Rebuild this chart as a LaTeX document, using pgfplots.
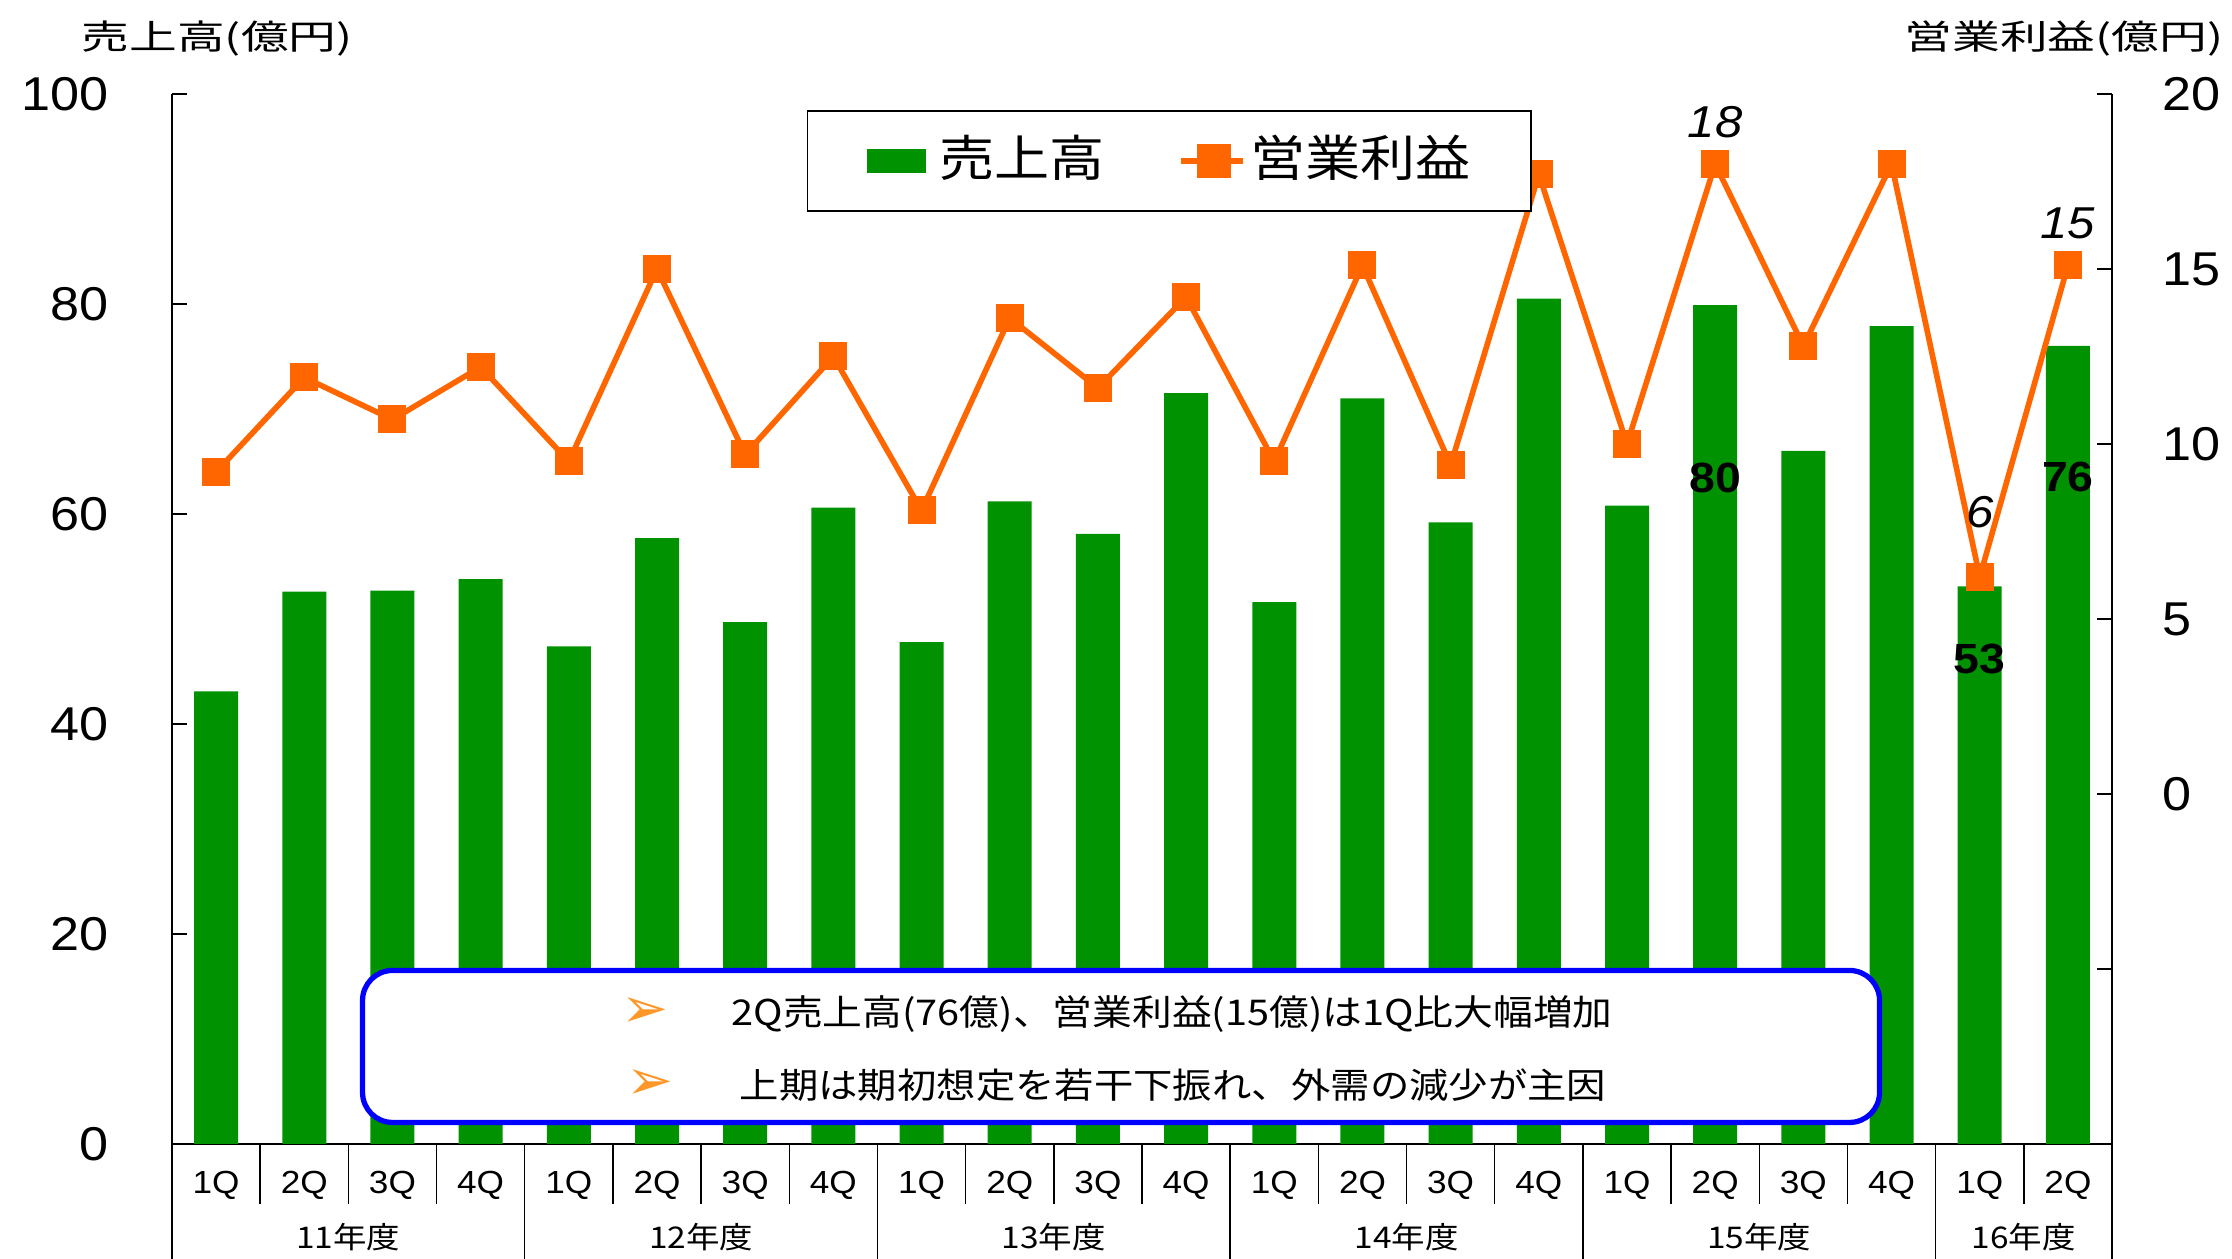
\documentclass[border=0pt]{standalone}
\usepackage{fontspec}
\setmainfont{Liberation Sans}[FakeStretch=1.1]
\newfontfamily\jp{Noto Sans CJK JP}[FakeStretch=1.12]
\newfontfamily\jpwide{Noto Sans CJK JP}[FakeStretch=1.4]
\newfontfamily\dv{DejaVu Sans}
\usepackage{pgfplots}
\usepackage{pgfplotstable}
\pgfplotsset{compat=1.18}
\definecolor{bargreen}{RGB}{0,146,0}
\definecolor{lineorange}{RGB}{255,102,0}
\definecolor{arroworange}{RGB}{255,150,40}
\definecolor{boxblue}{RGB}{0,0,255}

\pgfplotstableread{
idx sales profit
0 43.1 9.2
1 52.6 11.9
2 52.7 10.7
3 53.8 12.2
4 47.4 9.5
5 57.7 15.0
6 49.7 9.7
7 60.6 12.5
8 47.8 8.1
9 61.2 13.6
10 58.1 11.6
11 71.5 14.2
12 51.6 9.5
13 71.0 15.1
14 59.2 9.4
15 80.5 17.7
16 60.8 10.0
17 79.9 18.0
18 66.0 12.8
19 77.9 18.0
20 53.1 6.2
21 76.0 15.1
}\datatable

\begin{document}
\begin{tikzpicture}
\useasboundingbox (-17.2mm,-11.5mm) rectangle (206mm,114.4mm);
\begin{axis}[
  at={(0,0)}, anchor=south west,
  scale only axis, width=194mm, height=105mm,
  xmin=-0.5, xmax=21.5, ymin=0, ymax=100,
  axis x line*=bottom, axis y line*=left,
  axis line style={line width=0.4pt, -},
  ytick={0,20,40,60,80,100},
  xtick={0,...,21},
  xticklabels={1Q,2Q,3Q,4Q,1Q,2Q,3Q,4Q,1Q,2Q,3Q,4Q,1Q,2Q,3Q,4Q,1Q,2Q,3Q,4Q,1Q,2Q},
  xtick style={draw=none},
  ytick style={line width=0.4pt, black},
  tick align=inside, major tick length=1.5mm,
  xticklabel style={anchor=base, inner sep=0pt, yshift=-3.4mm, font=\fontsize{9.1}{11}\selectfont},
  yticklabel style={anchor=east, inner sep=0pt, xshift=-6.3mm, font=\fontsize{13.5}{16}\selectfont},
  /pgf/number format/assume math mode=true,
  clip=false,
  ybar, bar width=4.4mm,
]
\addplot[fill=bargreen, draw=none] table[x=idx, y=sales]{\datatable};
% separators under the category axis
\draw[line width=0.4pt]
  (axis cs:0.5,0) -- ([yshift=-6mm]axis cs:0.5,0)
  (axis cs:1.5,0) -- ([yshift=-6mm]axis cs:1.5,0)
  (axis cs:2.5,0) -- ([yshift=-6mm]axis cs:2.5,0)
  (axis cs:4.5,0) -- ([yshift=-6mm]axis cs:4.5,0)
  (axis cs:5.5,0) -- ([yshift=-6mm]axis cs:5.5,0)
  (axis cs:6.5,0) -- ([yshift=-6mm]axis cs:6.5,0)
  (axis cs:8.5,0) -- ([yshift=-6mm]axis cs:8.5,0)
  (axis cs:9.5,0) -- ([yshift=-6mm]axis cs:9.5,0)
  (axis cs:10.5,0) -- ([yshift=-6mm]axis cs:10.5,0)
  (axis cs:12.5,0) -- ([yshift=-6mm]axis cs:12.5,0)
  (axis cs:13.5,0) -- ([yshift=-6mm]axis cs:13.5,0)
  (axis cs:14.5,0) -- ([yshift=-6mm]axis cs:14.5,0)
  (axis cs:16.5,0) -- ([yshift=-6mm]axis cs:16.5,0)
  (axis cs:17.5,0) -- ([yshift=-6mm]axis cs:17.5,0)
  (axis cs:18.5,0) -- ([yshift=-6mm]axis cs:18.5,0)
  (axis cs:20.5,0) -- ([yshift=-6mm]axis cs:20.5,0);
\draw[line width=0.4pt]
  (axis cs:-0.5,0) -- ([yshift=-12mm]axis cs:-0.5,0)
  (axis cs:3.5,0) -- ([yshift=-12mm]axis cs:3.5,0)
  (axis cs:7.5,0) -- ([yshift=-12mm]axis cs:7.5,0)
  (axis cs:11.5,0) -- ([yshift=-12mm]axis cs:11.5,0)
  (axis cs:15.5,0) -- ([yshift=-12mm]axis cs:15.5,0)
  (axis cs:19.5,0) -- ([yshift=-12mm]axis cs:19.5,0)
  (axis cs:21.5,0) -- ([yshift=-12mm]axis cs:21.5,0);
% fiscal-year labels
\begin{scope}[every node/.style={anchor=base, inner sep=0pt, font=\jp\fontsize{8.5}{10}\selectfont}]
\node at ([yshift=-10.5mm]axis cs:1.5,0) {11年度};
\node at ([yshift=-10.5mm]axis cs:5.5,0) {12年度};
\node at ([yshift=-10.5mm]axis cs:9.5,0) {13年度};
\node at ([yshift=-10.5mm]axis cs:13.5,0) {14年度};
\node at ([yshift=-10.5mm]axis cs:17.5,0) {15年度};
\node at ([yshift=-10.5mm]axis cs:20.5,0) {16年度};
\end{scope}
% bold value labels on bars
\begin{scope}[every node/.style={font=\bfseries\fontsize{12}{14}\selectfont}]
\node at (axis cs:17,63.4) {80};
\node at (axis cs:21,63.5) {76};
\node at (axis cs:20,46.2) {53};
\end{scope}
\end{axis}

\begin{axis}[
  at={(0,0)}, anchor=south west,
  scale only axis, width=194mm, height=105mm,
  xmin=-0.5, xmax=21.5, ymin=-10, ymax=20,
  axis x line=none, axis y line*=right,
  axis line style={line width=0.4pt, -},
  ytick={-5,0,5,10,15,20},
  yticklabels={,0,5,10,15,20},
  ytick style={line width=0.4pt, black},
  tick align=inside, major tick length=1.5mm,
  yticklabel style={anchor=west, inner sep=0pt, xshift=5mm, font=\fontsize{13.5}{16}\selectfont},
  /pgf/number format/assume math mode=true,
  clip=false,
  legend columns=2,
  legend style={at={(0.514,0.936)}, anchor=center, draw=black, line width=0.4pt, fill=white,
    inner xsep=6mm, inner ysep=2.3mm,
    font=\jp\fontsize{14}{16}\selectfont,
    nodes={inner sep=0pt, text height=4.2mm, text depth=1.2mm},
    /tikz/every odd column/.append style={column sep=0.5mm},
    /tikz/every even column/.append style={column sep=7.3mm}},
]
\addlegendimage{legend image code/.code={\fill[bargreen] (0cm,-0.115cm) rectangle (0.57cm,0.115cm); \path (0.66cm,0cm);}}
\addlegendentry{売上高}
\addplot[lineorange, line width=1.6pt, mark=square*, mark size=1.35mm,
  mark options={solid, fill=lineorange, line width=0pt},
  legend image code/.code={\draw[lineorange, line width=1.6pt] (0cm,0cm) -- (0.62cm,0cm);
     \fill[lineorange] (0.33cm,0cm) +(-1.45mm,-1.45mm) rectangle +(1.45mm,1.45mm);}]
  table[x=idx, y=profit]{\datatable};
\addlegendentry{営業利益}
% italic value labels on the profit line
\begin{scope}[every node/.style={font=\itshape\fontsize{12.7}{15}\selectfont}]
\node at (axis cs:17,19.2) {18};
\node at (axis cs:21,16.3) {15};
\node at (axis cs:20,8.05) {6};
\end{scope}
% comment box
\node[draw=boxblue, line width=1.5pt, rounded corners=3mm, fill=white,
  minimum width=151.7mm, minimum height=15.2mm, inner sep=0pt] at (rel axis cs:0.4892,0.0929) {};
\node[anchor=base, inner sep=0pt, font=\jp\fontsize{10.1}{12}\selectfont] at (rel axis cs:0.5155,0.1124)
  {2Q売上高(76億)、営業利益(15億)は1Q比大幅増加};
\node[anchor=base, inner sep=0pt, font=\jp\fontsize{10}{12}\selectfont] at (rel axis cs:0.516,0.0438)
  {上期は期初想定を若干下振れ、外需の減少が主因};
\node[inner sep=0pt, text=arroworange, font=\dv\fontsize{16}{18}\selectfont] at (rel axis cs:0.2436,0.1252) {➢};
\node[inner sep=0pt, text=arroworange, font=\dv\fontsize{16}{18}\selectfont] at (rel axis cs:0.2466,0.0571) {➢};
\end{axis}

% axis titles
\node[anchor=base west, inner sep=0pt, font=\jpwide\fontsize{9.7}{12}\selectfont] at (-9.1mm,109.4mm) {売上高(億円)};
\node[anchor=base east, inner sep=0pt, font=\jpwide\fontsize{9.7}{12}\selectfont] at (205.2mm,109.4mm) {営業利益(億円)};
\end{tikzpicture}
\end{document}
